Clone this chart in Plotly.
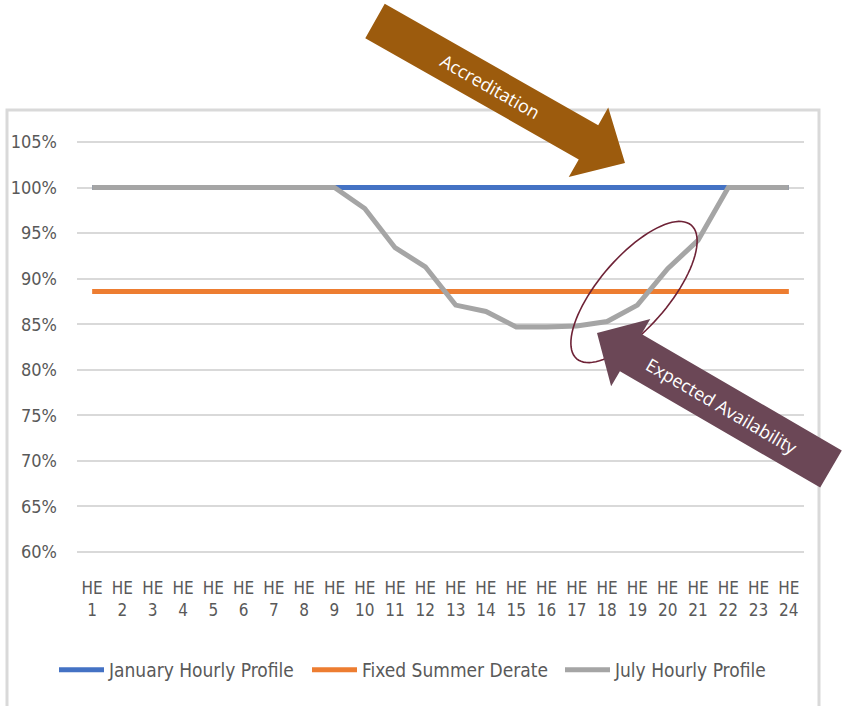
import math
import plotly.graph_objects as go

hours = [f"HE<br>{i}" for i in range(1, 25)]
january = [1.00] * 24
summer_derate = [0.886] * 24
july = [1.00, 1.00, 1.00, 1.00, 1.00, 1.00, 1.00, 1.00, 1.00, 0.977, 0.934, 0.913,
        0.871, 0.864, 0.847, 0.847, 0.848, 0.853, 0.871, 0.911, 0.942, 1.00, 1.00, 1.00]
y_ticks = [0.60, 0.65, 0.70, 0.75, 0.80, 0.85, 0.90, 0.95, 1.00, 1.05]

W, H = 846, 706
L, R, T, B = 77, 804, 130, 560
PW, PH = R - L, B - T


def px(x):
    return (x - L) / PW


def py(y):
    return (B - y) / PH


def arrow_path(tail, tip, bw, hw, hl):
    dx, dy = tip[0] - tail[0], tip[1] - tail[1]
    ln = math.hypot(dx, dy)
    ux, uy = dx / ln, dy / ln
    nx, ny = -uy, ux
    bx, by = tip[0] - ux * hl, tip[1] - uy * hl
    pts = [
        (tail[0] + nx * bw, tail[1] + ny * bw),
        (bx + nx * bw, by + ny * bw),
        (bx + nx * hw, by + ny * hw),
        tip,
        (bx - nx * hw, by - ny * hw),
        (bx - nx * bw, by - ny * bw),
        (tail[0] - nx * bw, tail[1] - ny * bw),
    ]
    return "M" + " L".join(f"{px(x):.5f},{py(y):.5f}" for x, y in pts) + " Z"


def ellipse_path(cx, cy, a, b, ang_deg, n=90):
    th = math.radians(ang_deg)
    pts = []
    for k in range(n + 1):
        t = 2 * math.pi * k / n
        ex, ey = a * math.cos(t), b * math.sin(t)
        x = cx + ex * math.cos(th) - ey * math.sin(th)
        y = cy - (ex * math.sin(th) + ey * math.cos(th))
        pts.append((x, y))
    return "M" + " L".join(f"{px(x):.5f},{py(y):.5f}" for x, y in pts) + " Z"


fig = go.Figure()
fig.add_trace(go.Scatter(x=hours, y=january, mode="lines", name="January Hourly Profile",
                         line=dict(color="#4472C4", width=5)))
fig.add_trace(go.Scatter(x=hours, y=summer_derate, mode="lines", name="Fixed Summer Derate",
                         line=dict(color="#ED7D31", width=5)))
fig.add_trace(go.Scatter(x=hours, y=july, mode="lines", name="July Hourly Profile",
                         line=dict(color="#A5A5A5", width=5)))

font_main = "DejaVu Sans Condensed, Liberation Sans Narrow, sans-serif"

shapes = [
    dict(type="rect", xref="paper", yref="paper", x0=px(7), x1=px(819), y0=py(110), y1=py(730),
         line=dict(color="#D9D9D9", width=3), fillcolor="rgba(0,0,0,0)", layer="below"),
    dict(type="path", xref="paper", yref="paper", path=ellipse_path(634, 292, 88, 35, 49.4),
         line=dict(color="#6E2236", width=1.6), fillcolor="rgba(0,0,0,0)"),
    dict(type="path", xref="paper", yref="paper",
         path=arrow_path((375, 21), (625, 163), 19.7, 40, 42),
         line=dict(width=0), fillcolor="#9C5B0D"),
    dict(type="path", xref="paper", yref="paper",
         path=arrow_path((831, 469), (597, 333), 21.5, 39, 39),
         line=dict(width=0), fillcolor="#6B4756"),
]

annotations = [
    dict(text="Accreditation", xref="paper", yref="paper", x=px(490), y=py(86),
         xanchor="center", yanchor="middle", showarrow=False, textangle=29.6,
         font=dict(family="Open Sans, sans-serif", size=18, color="white")),
    dict(text="Expected Availability", xref="paper", yref="paper", x=px(722), y=py(406),
         xanchor="center", yanchor="middle", showarrow=False, textangle=30.3,
         font=dict(family="Open Sans, sans-serif", size=18, color="white")),
]

fig.update_layout(
    width=W, height=H,
    margin=dict(l=L, r=W - R, t=T, b=H - B),
    paper_bgcolor="white", plot_bgcolor="white",
    showlegend=True,
    legend=dict(orientation="h", x=px(54), y=py(670), xanchor="left", yanchor="middle",
                font=dict(family=font_main, size=19, color="#595959"),
                entrywidth=193, entrywidthmode="pixels", itemwidth=45,
                bgcolor="rgba(0,0,0,0)"),
    shapes=shapes,
    annotations=annotations,
    xaxis=dict(type="category", range=[-0.5, 23.5], showgrid=False, zeroline=False,
               showline=False,
               tickfont=dict(family=font_main, size=17, color="#595959"),
               ticks="", ticklabelstandoff=16, fixedrange=True),
    yaxis=dict(range=[0.59122, 1.06317], tickvals=y_ticks, tickformat=".0%",
               showgrid=True, gridcolor="#D9D9D9", gridwidth=2, zeroline=False, showline=False,
               tickfont=dict(family=font_main, size=18, color="#595959"),
               ticks="", ticklabelstandoff=19, fixedrange=True),
)

fig.write_html("out.html")
